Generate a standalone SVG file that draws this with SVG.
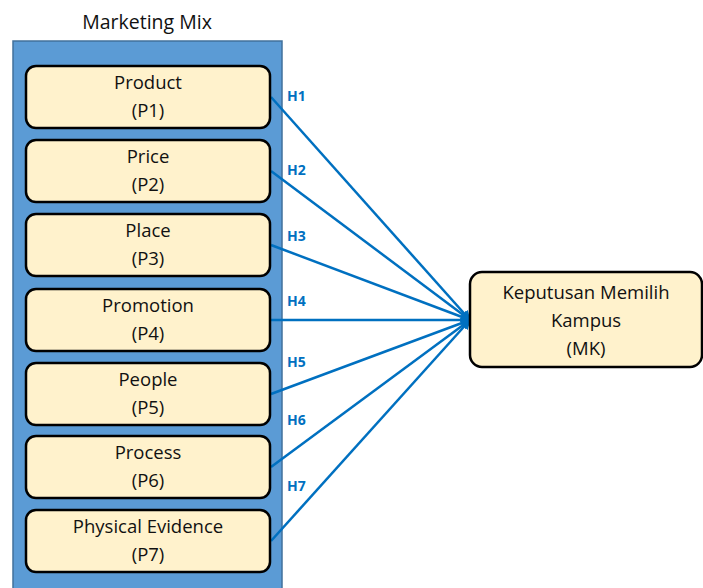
<svg xmlns="http://www.w3.org/2000/svg" width="703" height="588" viewBox="0 0 703 588">
<style>
.node rect{fill:#FFF2CC;stroke:#000;stroke-width:2.5}
.t{font-family:"Open Sans","Liberation Sans",sans-serif;font-size:18.5px;fill:#111;text-anchor:middle}
.title{font-size:19.5px}
.h{font-family:"Open Sans","Liberation Sans",sans-serif;font-size:14px;font-weight:bold;fill:#0070C0}
.c line{stroke:#0070C0;stroke-width:2.5;marker-end:url(#a)}
</style>
<defs>
<marker id="a" viewBox="0 0 10 10" refX="9" refY="5" markerWidth="4" markerHeight="4" orient="auto" markerUnits="strokeWidth">
<path d="M0,0 L10,5 L0,10 z" fill="#0070C0"/>
</marker>
</defs>
<rect width="703" height="588" fill="#fff"/>
<text class="t title" x="147" y="29">Marketing Mix</text>
<rect x="13" y="41" width="269" height="560" fill="#5B9BD5" stroke="#41719C" stroke-width="1.5"/>
<g class="c" id="connectors">
<line x1="271" y1="97" x2="470" y2="320"/>
<line x1="271" y1="171" x2="470" y2="320"/>
<line x1="271" y1="245" x2="470" y2="320"/>
<line x1="271" y1="320" x2="470" y2="320"/>
<line x1="271" y1="394" x2="470" y2="320"/>
<line x1="271" y1="467" x2="470" y2="320"/>
<line x1="271" y1="541" x2="470" y2="320"/>
</g>
<g id="labels">
<text class="h" x="287" y="101">H1</text>
<text class="h" x="287" y="175">H2</text>
<text class="h" x="287" y="241">H3</text>
<text class="h" x="287" y="306">H4</text>
<text class="h" x="287" y="367">H5</text>
<text class="h" x="287" y="425">H6</text>
<text class="h" x="287" y="491">H7</text>
</g>
<g class="node" id="p1"><rect x="26" y="66" width="244" height="62" rx="10"/><text class="t" x="148" y="89">Product</text><text class="t" x="148" y="117">(P1)</text></g>
<g class="node" id="p2"><rect x="26" y="140" width="244" height="62" rx="10"/><text class="t" x="148" y="163">Price</text><text class="t" x="148" y="191">(P2)</text></g>
<g class="node" id="p3"><rect x="26" y="214" width="244" height="62" rx="10"/><text class="t" x="148" y="237">Place</text><text class="t" x="148" y="265">(P3)</text></g>
<g class="node" id="p4"><rect x="26" y="289" width="244" height="62" rx="10"/><text class="t" x="148" y="312">Promotion</text><text class="t" x="148" y="340">(P4)</text></g>
<g class="node" id="p5"><rect x="26" y="363" width="244" height="62" rx="10"/><text class="t" x="148" y="386">People</text><text class="t" x="148" y="414">(P5)</text></g>
<g class="node" id="p6"><rect x="26" y="436" width="244" height="62" rx="10"/><text class="t" x="148" y="459">Process</text><text class="t" x="148" y="487">(P6)</text></g>
<g class="node" id="p7"><rect x="26" y="510" width="244" height="62" rx="10"/><text class="t" x="148" y="533">Physical Evidence</text><text class="t" x="148" y="561">(P7)</text></g>
<g class="node" id="mk"><rect x="470" y="272" width="232" height="95" rx="12"/><text class="t" x="586" y="299">Keputusan Memilih</text><text class="t" x="586" y="327">Kampus</text><text class="t" x="586" y="355">(MK)</text></g>
</svg>
